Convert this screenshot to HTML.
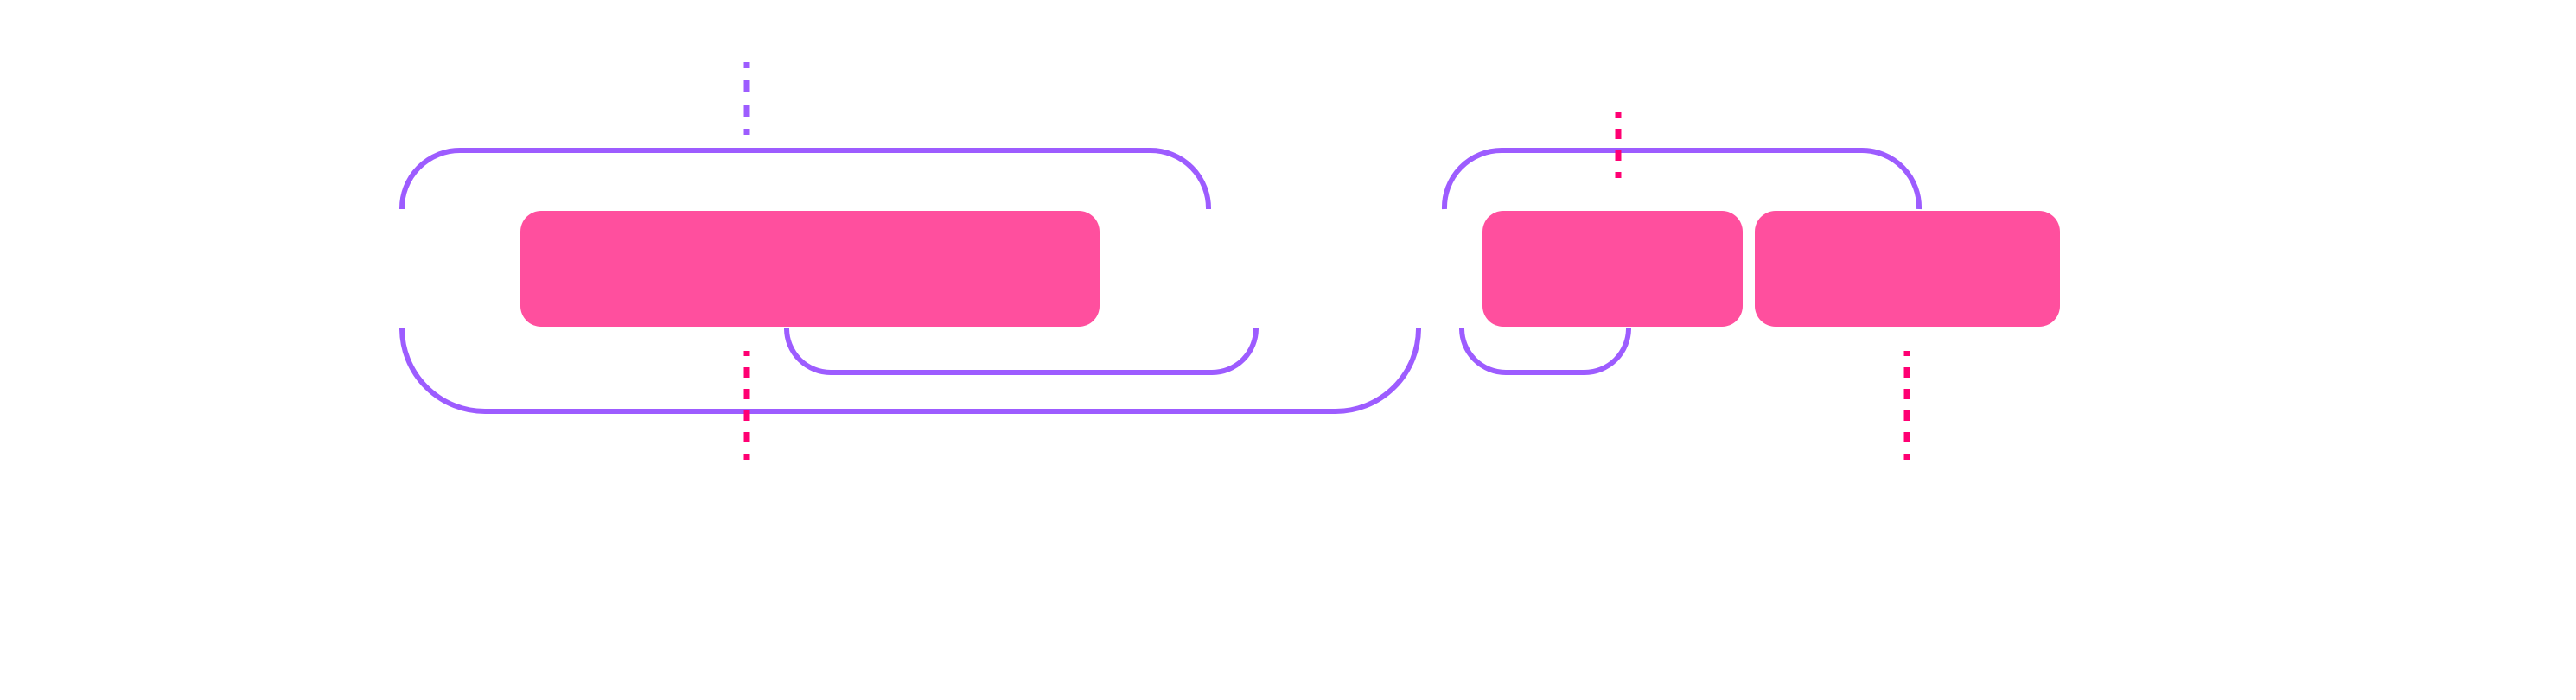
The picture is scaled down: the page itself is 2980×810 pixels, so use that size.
<!DOCTYPE html>
<html><head><meta charset="utf-8"><style>html,body{margin:0;padding:0;background:#fff}svg{display:block}</style></head>
<body>
<svg width="2980" height="810" viewBox="0 0 2980 810" xmlns="http://www.w3.org/2000/svg">
<g fill="none" stroke="#9d5cff" stroke-width="6">
<path d="M465 242 A67 67 0 0 1 532 174 L1331 174 A67 67 0 0 1 1398 242"/>
<path d="M465 380 A96 96 0 0 0 561 476 L1545 476 A96 96 0 0 0 1641 380"/>
<path d="M910 380 A51 51 0 0 0 961 431 L1402 431 A51 51 0 0 0 1453 380"/>
<path d="M1671 242 A66 66 0 0 1 1737 174 L2154 174 A66 66 0 0 1 2220 242"/>
<path d="M1691 380 A51 51 0 0 0 1742 431 L1833 431 A51 51 0 0 0 1884 380"/>
<path d="M864 72 L864 156" stroke-width="7" stroke-dasharray="14 14" stroke-dashoffset="7"/>
</g>
<g fill="#ff4f9e">
<rect x="602" y="244" width="670" height="134" rx="24"/>
<rect x="1715" y="244" width="301" height="134" rx="24"/>
<rect x="2030" y="244" width="353" height="134" rx="24"/>
</g>
<g fill="none" stroke="#ff0073" stroke-width="7" stroke-dasharray="12 13" stroke-dashoffset="6">
<path d="M864 406 L864 532"/>
<path d="M2206 406 L2206 532"/>
<path d="M1872 130 L1872 206"/>
</g>
</svg>
</body></html>
